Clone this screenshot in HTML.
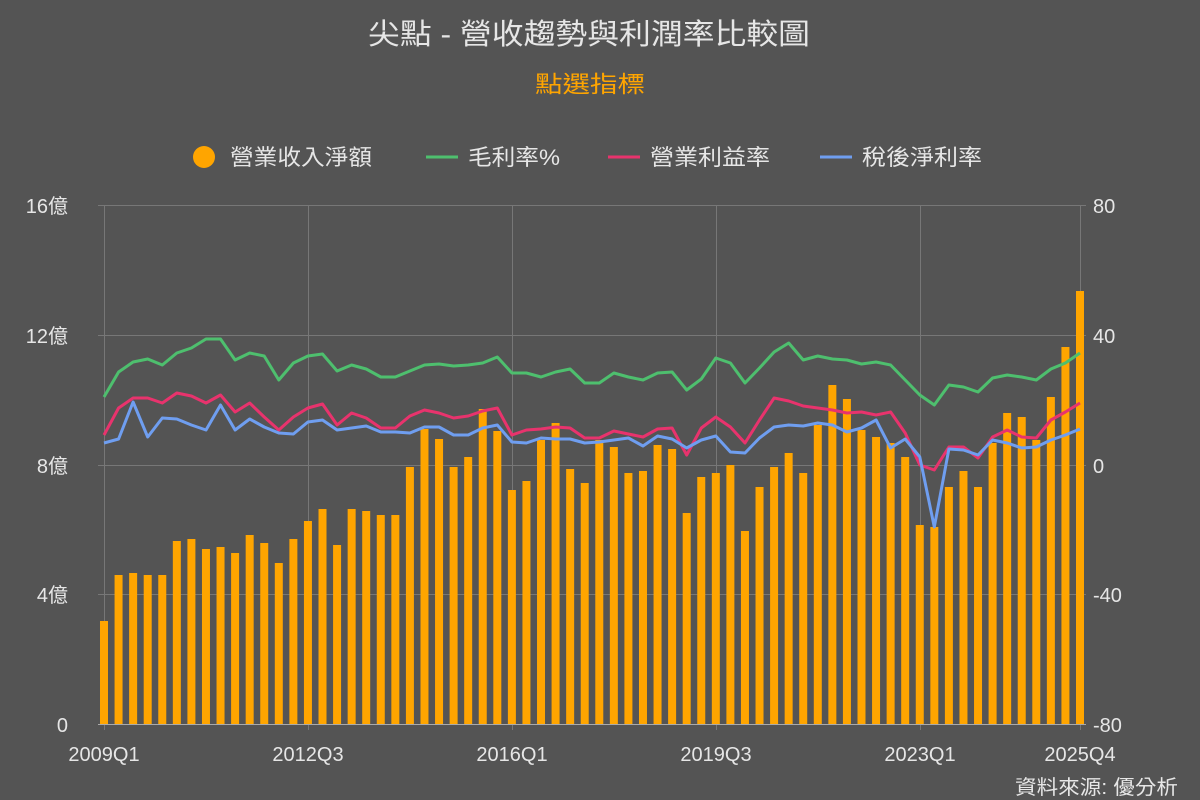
<!DOCTYPE html>
<html><head><meta charset="utf-8"><style>
body{margin:0;background:#545454;}
svg{display:block;font-family:"Liberation Sans","Noto Sans CJK TC",sans-serif;}
</style></head><body>
<svg id="s" width="1200" height="800" xmlns="http://www.w3.org/2000/svg">
<rect width="1200" height="800" fill="#545454"/>
<text x="368" y="44" fill="#e6e6e6" font-size="29" textLength="442" lengthAdjust="spacingAndGlyphs">尖點 - 營收趨勢與利潤率比較圖</text>
<text x="535" y="92" fill="#ffa500" font-size="23" textLength="110" lengthAdjust="spacingAndGlyphs">點選指標</text>
<circle cx="204" cy="157" r="11" fill="#ffa500"/>
<text x="230" y="165" fill="#e6e6e6" font-size="22" textLength="142" lengthAdjust="spacingAndGlyphs">營業收入淨額</text>
<line x1="426" y1="157" x2="458" y2="157" stroke="#4ebf6e" stroke-width="3"/>
<text x="468" y="165" fill="#e6e6e6" font-size="22" textLength="92" lengthAdjust="spacingAndGlyphs">毛利率%</text>
<line x1="608" y1="157" x2="640" y2="157" stroke="#e8336d" stroke-width="3"/>
<text x="650" y="165" fill="#e6e6e6" font-size="22" textLength="120" lengthAdjust="spacingAndGlyphs">營業利益率</text>
<line x1="820" y1="157" x2="852" y2="157" stroke="#6f9ef0" stroke-width="3"/>
<text x="862" y="165" fill="#e6e6e6" font-size="22" textLength="120" lengthAdjust="spacingAndGlyphs">稅後淨利率</text>
<g stroke="#777" stroke-width="1">
<line x1="98" y1="205.5" x2="1086" y2="205.5"/>
<line x1="98" y1="335.5" x2="1086" y2="335.5"/>
<line x1="98" y1="465.5" x2="1086" y2="465.5"/>
<line x1="98" y1="594.5" x2="1086" y2="594.5"/>
<line x1="104.5" y1="205" x2="104.5" y2="730"/>
<line x1="308.5" y1="205" x2="308.5" y2="730"/>
<line x1="512.5" y1="205" x2="512.5" y2="730"/>
<line x1="716.5" y1="205" x2="716.5" y2="730"/>
<line x1="920.5" y1="205" x2="920.5" y2="730"/>
<line x1="1080.5" y1="205" x2="1080.5" y2="730"/>
</g>
<g id="bars" fill="#ffa500"></g>
<line x1="98" y1="724.5" x2="1086" y2="724.5" stroke="#aaa" stroke-width="1"/>
<g id="lines" fill="none" stroke-width="3" stroke-linejoin="round"></g>
<g fill="#e6e6e6" font-size="20" text-anchor="end">
<text x="68" y="213">16億</text><text x="68" y="343">12億</text><text x="68" y="473">8億</text><text x="68" y="602">4億</text><text x="68" y="732">0</text>
</g>
<g fill="#e6e6e6" font-size="20" text-anchor="start">
<text x="1093" y="213">80</text><text x="1093" y="343">40</text><text x="1093" y="473">0</text><text x="1093" y="602">-40</text><text x="1093" y="732">-80</text>
</g>
<g fill="#e6e6e6" font-size="20" text-anchor="middle">
<text x="104" y="761">2009Q1</text><text x="308" y="761">2012Q3</text><text x="512" y="761">2016Q1</text><text x="716" y="761">2019Q3</text><text x="920" y="761">2023Q1</text><text x="1080" y="761">2025Q4</text>
</g>
<text x="1015" y="794" fill="#e6e6e6" font-size="20" textLength="163" lengthAdjust="spacingAndGlyphs">資料來源: 優分析</text>
</svg>
<script>
var bars=[621,575,573,575,575,541,539,549,547,553,535,543,563,539,521,509,545,509,511,515,515,467,429,439,467,457,409,431,490,481,440,423,469,483,440,447,473,471,445,449,513,477,473,465,531,487,467,
453,473,425,385,399,430,437,443,457,525,527,487,471,487,443,413,417,440,397,347,291];
var g=[397,372,362,359,365,353,348,339,339,360,353,356,380,363,356,354,371,365,369,377,377,371,365,364,366,365,363,357,373,373,377,372,369,383,383,373,377,380,373,372,390,379,358,363,383,368,352,343,360,356,359,360,364,362,365,380,395,405,385,387,392,378,375,377,380,369,363,353];
var r=[435,408,398,398,403,393,396,403,395,412,403,417,430,417,408,404,425,413,418,428,428,416,410,413,418,416,411,408,435,430,429,427,428,438,438,431,434,437,429,428,455,428,417,427,443,420,398,401,406,408,410,413,412,415,412,433,465,470,447,447,458,437,430,437,438,420,412,403];
var b=[443,439,402,437,418,419,425,430,405,430,419,427,433,434,422,420,430,428,426,432,432,433,427,427,435,435,428,425,442,443,438,439,439,443,442,440,438,446,436,439,448,440,436,452,453,438,427,425,426,423,425,432,428,420,448,439,457,527,449,450,455,440,443,448,447,440,435,429];
var ns="http://www.w3.org/2000/svg",sp=976/67;
var bg=document.getElementById('bars');
for(var i=0;i<68;i++){var x=104+i*sp;var e=document.createElementNS(ns,'rect');e.setAttribute('x',x-4);e.setAttribute('y',bars[i]);e.setAttribute('width',8);e.setAttribute('height',724-bars[i]);bg.appendChild(e);}
var lg=document.getElementById('lines');
[[g,'#4ebf6e'],[r,'#e8336d'],[b,'#6f9ef0']].forEach(function(p){var d='';p[0].forEach(function(y,i){d+=(i?'L':'M')+(104+i*sp).toFixed(1)+','+y;});var e=document.createElementNS(ns,'path');e.setAttribute('d',d);e.setAttribute('stroke',p[1]);lg.appendChild(e);});
</script>
</body></html>
